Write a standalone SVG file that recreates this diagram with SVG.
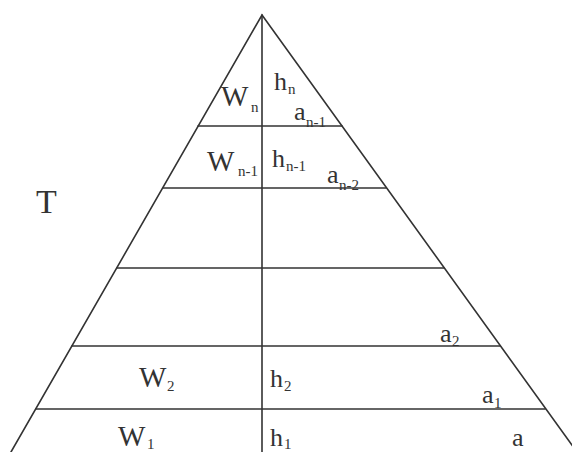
<svg xmlns="http://www.w3.org/2000/svg" width="572" height="452" viewBox="0 0 572 452">
<style>
.ln{stroke:#333;stroke-width:1.6;fill:none;stroke-linecap:round}
.t{font-family:"Liberation Serif","Times New Roman",serif;fill:#333;font-size:26px}
.w{font-size:29px}
.s{font-family:"Liberation Serif","Times New Roman",serif;fill:#333;font-size:15px}
</style>
<rect width="572" height="452" fill="#fff"/>
<g id="frame">
<polyline class="ln" points="11,452 262,15 577,452"/>
<line class="ln" x1="262" y1="15" x2="262" y2="452"/>
<line class="ln" x1="198" y1="126" x2="342" y2="126"/>
<line class="ln" x1="163" y1="188" x2="386" y2="188"/>
<line class="ln" x1="117" y1="268" x2="444" y2="268"/>
<line class="ln" x1="72" y1="346" x2="500" y2="346"/>
<line class="ln" x1="36" y1="409" x2="545" y2="409"/>
</g>
<g id="labels">
<text class="t" x="36" y="213" style="font-size:34px">T</text>
<text class="t w" x="221" y="106">W</text><text class="s" x="251" y="112">n</text>
<text class="t" x="274" y="90">h</text><text class="s" x="288" y="94">n</text>
<text class="t" x="294" y="120">a</text><text class="s" x="306" y="127">n-1</text>
<text class="t w" x="207" y="171">W</text><text class="s" x="238" y="176">n-1</text>
<text class="t" x="272" y="167">h</text><text class="s" x="286" y="171">n-1</text>
<text class="t" x="327" y="183">a</text><text class="s" x="339" y="190">n-2</text>
<text class="t" x="440" y="342">a</text><text class="s" x="452" y="346">2</text>
<text class="t w" x="139" y="387">W</text><text class="s" x="167" y="391">2</text>
<text class="t" x="270" y="387">h</text><text class="s" x="284" y="391">2</text>
<text class="t" x="482" y="403">a</text><text class="s" x="494" y="408">1</text>
<text class="t w" x="118" y="446">W</text><text class="s" x="147" y="449">1</text>
<text class="t" x="270" y="446">h</text><text class="s" x="284" y="449">1</text>
<text class="t" x="512" y="446">a</text>
</g>
</svg>
